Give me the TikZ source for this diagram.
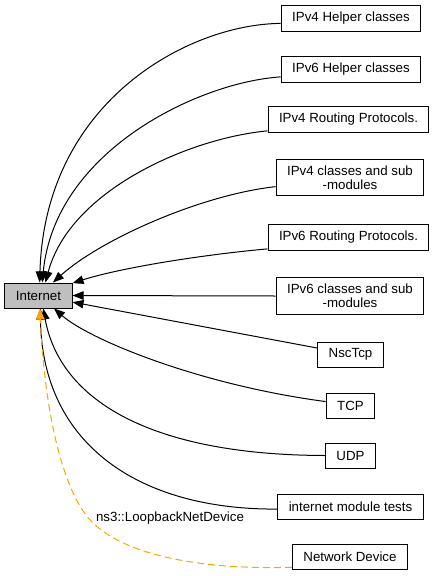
\documentclass[tikz,border=0pt]{standalone}
\usepackage{fontspec}
\setmainfont{Liberation Sans}
\usetikzlibrary{arrows.meta}

\definecolor{grpgray}{HTML}{BFBFBF}
\definecolor{linkorange}{HTML}{FFA500}

\tikzset{every node/.style={font=\fontsize{13.3pt}{14pt}\selectfont}}
\tikzstyle{group}=[draw,line width=1pt,fill=white,align=center,inner xsep=11pt,inner ysep=6.5pt,minimum height=25pt]
\tikzstyle{dep}=[line width=1pt,-{Triangle[length=11pt,width=8.5pt]}]

\begin{document}
\begin{tikzpicture}[x=1pt,y=-1pt]
            \useasboundingbox (0,0) rectangle (437,576);

            \node [group,fill=grpgray] (internet) at (38.5,295.5) {Internet};

            \node [group] (ipv4h) at (351,18.5) {IPv4 Helper classes};
            \node [group] (ipv6h) at (351,69.5) {IPv6 Helper classes};
            \node [group] (ipv4r) at (348.5,119.5) {IPv4 Routing Protocols.};
            \node [group] (ipv4c) at (350,177.5) {IPv4 classes and sub\\-modules};
            \node [group] (ipv6r) at (348.5,237.5) {IPv6 Routing Protocols.};
            \node [group] (ipv6c) at (350,296) {IPv6 classes and sub\\-modules};
            \node [group] (nsctcp) at (350.5,354.5) {NscTcp};
            \node [group] (tcp) at (350.5,405.5) {TCP};
            \node [group] (udp) at (350.5,455.5) {UDP};
            \node [group] (tests) at (350.5,506.5) {internet module tests};
            \node [group] (netdev) at (350,557) {Network Device};

            \draw [dep] (ipv4h.184) .. controls (190,24) and (45,100) .. (internet.85);
            \draw [dep] (ipv6h.186) .. controls (200,82) and (55,150) .. (internet.74);
            \draw [dep] (ipv4r.188) .. controls (190,138) and (70,190) .. (internet.62);
            \draw [dep] (ipv4c.187) .. controls (200,195) and (100,240) .. (internet.42);
            \draw [dep] (ipv6r.188) .. controls (200,255) and (120,268) .. (internet.20);
            \draw [dep] (ipv6c.west) -- (internet.east);
            \draw [dep] (nsctcp.169) -- (internet.-11);
            \draw [dep] (tcp.171) .. controls (200,385) and (90,340) .. (internet.-40);
            \draw [dep] (udp.west) .. controls (150,455) and (60,400) .. (internet.-70);
            \draw [dep] (tests.182) .. controls (140,510) and (42,445) .. (internet.-82);
            \draw [dep,linkorange,dash pattern=on 7pt off 4pt] (netdev.190) .. controls (200,570) and (125,555) .. (92,522)
                .. controls (65,495) and (45,420) .. (internet.-84);

            \node (lbnetdev) at (170,518) {ns3::LoopbackNetDevice};
        \end{tikzpicture}
\end{document}
